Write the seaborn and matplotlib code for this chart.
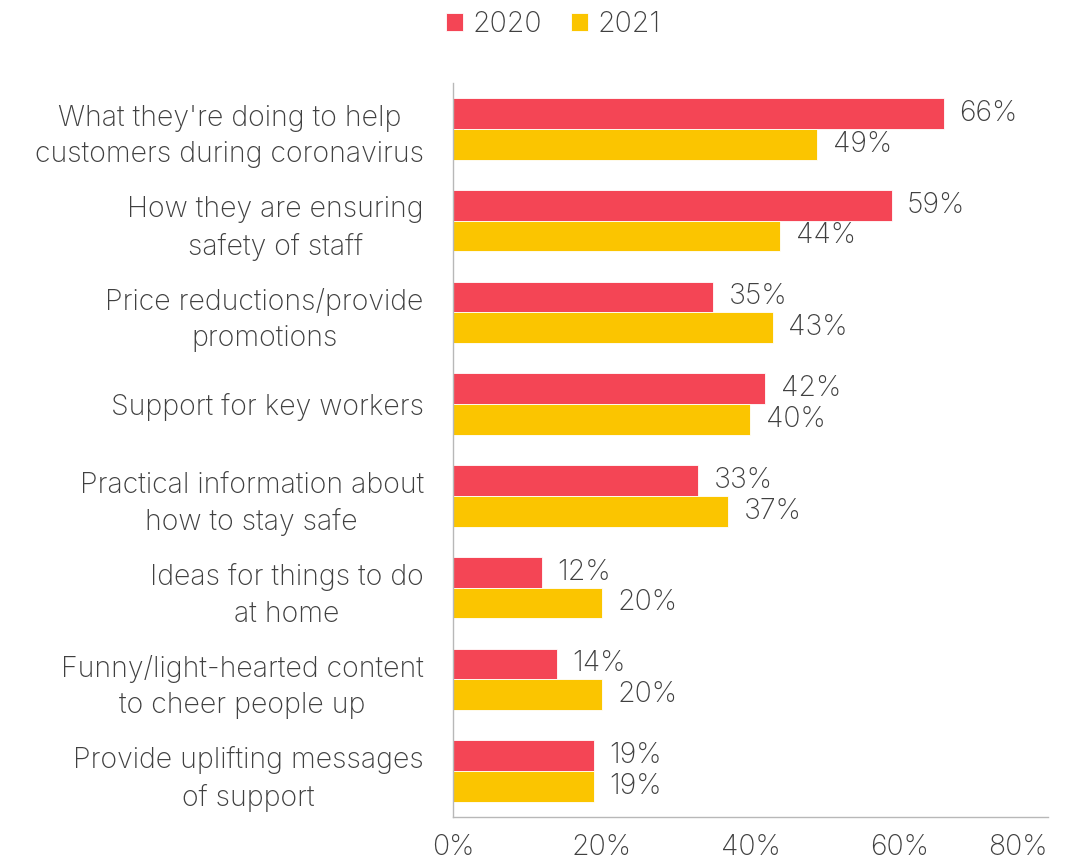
import matplotlib
matplotlib.use("Agg")
import matplotlib.pyplot as plt
import seaborn as sns
import pandas as pd

categories = [
    "What they're doing to help\ncustomers during coronavirus",
    "How they are ensuring\nsafety of staff",
    "Price reductions/provide\npromotions",
    "Support for key workers",
    "Practical information about\nhow to stay safe",
    "Ideas for things to do\nat home",
    "Funny/light-hearted content\nto cheer people up",
    "Provide uplifting messages\nof support",
]
values_2020 = [66, 59, 35, 42, 33, 12, 14, 19]
values_2021 = [49, 44, 43, 40, 37, 20, 20, 19]
years = ["2020", "2021"]
x_ticks = [0, 20, 40, 60, 80]

df = pd.DataFrame({
    "category": categories * 2,
    "value": values_2020 + values_2021,
    "year": [years[0]] * len(categories) + [years[1]] * len(categories),
})

sns.set_theme(style="white")
plt.rcParams["font.family"] = ["Inter", "DejaVu Sans"]
text_color = "#404040"
palette = {"2020": "#F44555", "2021": "#FBC500"}
fs = 20.5

fig = plt.figure(figsize=(10.79, 8.67), dpi=100)
ax = fig.add_axes([0.4198, 0.0577, 0.5515, 0.8466])

sns.barplot(data=df, y="category", x="value", hue="year", orient="h",
            palette=palette, width=0.67, ax=ax, saturation=1,
            edgecolor="white", linewidth=0.6)

for cont in ax.containers:
    ax.bar_label(cont, fmt="%d%%", padding=11, fontsize=fs,
                 color=text_color, fontweight="light")

ax.set_xlim(0, 80)
ax.set_ylim(len(categories) - 0.5, -0.5)
ax.set_xticks(x_ticks)
ax.set_xticklabels([f"{t}%" for t in x_ticks])
ax.set_xlabel("")
ax.set_ylabel("")
ax.tick_params(axis="x", length=0, pad=12, labelsize=fs, labelcolor=text_color)
ax.tick_params(axis="y", length=0, pad=21, labelsize=fs, labelcolor=text_color)
for lab in ax.get_yticklabels():
    lab.set_multialignment("center")
    lab.set_linespacing(1.45)
    lab.set_fontweight("light")
for lab in ax.get_xticklabels():
    lab.set_fontweight("light")
# keep the rightmost tick label inside the canvas
ax.get_xticklabels()[-1].set_horizontalalignment("right")
ax.get_xticklabels()[-1].set_x(80)

for side in ["top", "right"]:
    ax.spines[side].set_visible(False)
for side in ["left", "bottom"]:
    ax.spines[side].set_color("#B8B8B8")
    ax.spines[side].set_linewidth(1.0)

handles, labels = ax.get_legend_handles_labels()
ax.get_legend().remove()
fig.legend(handles, labels, loc="center", bbox_to_anchor=(0.513, 0.972),
           ncol=2, frameon=False, fontsize=fs, handlelength=0.6,
           handleheight=0.6, handletextpad=0.35, columnspacing=1.0,
           labelcolor=text_color, prop={"weight": "light", "size": fs})

fig.savefig("out.png", dpi=100)
